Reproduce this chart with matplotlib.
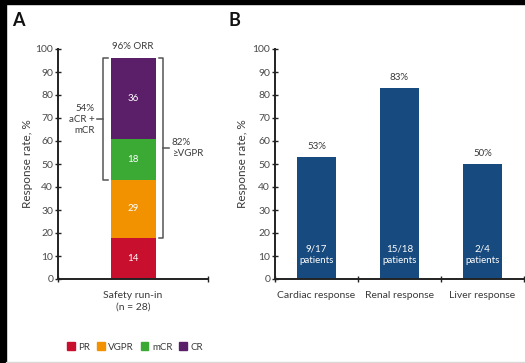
import matplotlib
matplotlib.use("Agg")
import matplotlib.pyplot as plt
from matplotlib.patches import Rectangle

plt.rcParams['font.family'] = ['Lato', 'DejaVu Sans']

# Panel A data
a_category = "Safety run-in\n(n = 28)"
a_series = ["PR", "VGPR", "mCR", "CR"]
a_heights = [18, 25, 18, 35]          # drawn segment heights as they appear
a_labels = ["14", "29", "18", "36"]    # printed segment labels
a_colors = ["#C8102E", "#F39200", "#3AAA35", "#5B1F69"]

# Panel B data
b_categories = ["Cardiac response", "Renal response", "Liver response"]
b_values = [53, 83, 50]
b_top_labels = ["53%", "83%", "50%"]
b_inner_labels = ["9/17\npatients", "15/18\npatients", "2/4\npatients"]
b_color = "#174A7E"

yticks = list(range(0, 101, 10))
txt = "#3a3a3a"
tick_c = "#4a4a4a"

W, H = 525, 363
fig = plt.figure(figsize=(W / 100, H / 100), dpi=100)
fig.patch.set_facecolor("white")

def px(x0, y0, x1, y1):
    return [x0 / W, 1 - y1 / H, (x1 - x0) / W, (y1 - y0) / H]

def style_axis(ax, labelpad):
    for s in ["top", "right"]:
        ax.spines[s].set_visible(False)
    for s in ["left", "bottom"]:
        ax.spines[s].set_linewidth(1.4)
        ax.spines[s].set_color("#222222")
    ax.set_ylim(0, 100)
    ax.set_yticks(yticks)
    ax.tick_params(axis="y", direction="inout", length=4, width=1.0,
                   labelsize=7.5, labelcolor=tick_c, pad=1.5, color="#222222")
    ax.set_ylabel("Response rate, %", fontsize=8.5, color=txt, labelpad=labelpad)

# ---------------- Panel A ----------------
axA = fig.add_axes(px(58, 49, 208, 279))
style_axis(axA, 1.5)
axA.set_xlim(-0.5, 0.5)
bottom = 0
for h, lab, c in zip(a_heights, a_labels, a_colors):
    axA.bar(0, h, width=0.3, bottom=bottom, color=c, edgecolor="none")
    axA.text(0, bottom + h / 2, lab, ha="center", va="center",
             color="white", fontsize=7)
    bottom += h
total = bottom
axA.set_xticks([-0.5, 0.5])
axA.set_xticklabels(["", ""])
axA.tick_params(axis="x", direction="inout", length=5, width=1.0, color="#222222")
axA.text(0, -5, a_category, ha="center", va="top", fontsize=7.5, color=txt,
         linespacing=1.45)
axA.text(0, total + 5, "96% ORR", ha="center", va="center", fontsize=7,
         color=txt)

bc = "#555555"
# left bracket (aCR + mCR)
lb_lo = a_heights[0] + a_heights[1]
xl = -0.2
axA.plot([xl + 0.03, xl, xl, xl + 0.03], [total, total, lb_lo, lb_lo],
         color=bc, lw=1.1, clip_on=False)
lmid = (total + lb_lo) / 2
axA.plot([xl - 0.04, xl], [lmid, lmid], color=bc, lw=1.1, clip_on=False)
axA.text(xl - 0.055, lmid, "54%\naCR +\nmCR", ha="right", va="center",
         fontsize=7, color=txt, linespacing=1.3)
# right bracket (>=VGPR)
rb_lo = a_heights[0]
xr = 0.2
axA.plot([xr - 0.03, xr, xr, xr - 0.03], [total, total, rb_lo, rb_lo],
         color=bc, lw=1.1, clip_on=False)
rmid = (total + rb_lo) / 2
axA.plot([xr, xr + 0.04], [rmid, rmid], color=bc, lw=1.1, clip_on=False)
axA.text(xr + 0.06, rmid, "82%\n\u2265VGPR", ha="left", va="center",
         fontsize=7, color=txt, linespacing=1.3)

# legend
handles = [Rectangle((0, 0), 1, 1, color=c) for c in a_colors]
fig.legend(handles, a_series, loc="center", bbox_to_anchor=(135 / W, 1 - 347 / H),
           ncol=4, frameon=False, fontsize=7, handlelength=0.8,
           handleheight=0.9, handletextpad=0.35, columnspacing=0.7,
           labelcolor=txt)

# ---------------- Panel B ----------------
axB = fig.add_axes(px(275, 49, 524, 279))
style_axis(axB, 3)
xs = list(range(len(b_categories)))
axB.set_xlim(-0.5, len(b_categories) - 0.5)
axB.bar(xs, b_values, width=0.48, color=b_color, edgecolor="none")
for x, v, tl, il in zip(xs, b_values, b_top_labels, b_inner_labels):
    axB.text(x, v + 4.5, tl, ha="center", va="center", fontsize=7, color=txt)
    axB.text(x, 10.5, il, ha="center", va="center", fontsize=7,
             color="white", linespacing=1.25)
axB.set_xticks([i - 0.5 for i in range(len(b_categories) + 1)])
axB.set_xticklabels([""] * (len(b_categories) + 1))
axB.tick_params(axis="x", direction="inout", length=5, width=1.0, color="#222222")
for x, c in zip(xs, b_categories):
    axB.text(x, -5, c, ha="center", va="top", fontsize=7.5, color=txt)

# panel letters
fig.text(12 / W, 1 - 20 / H, "A", fontsize=13, fontweight="bold",
         ha="left", va="center", color="#111111")
fig.text(229 / W, 1 - 20 / H, "B", fontsize=13, fontweight="bold",
         ha="left", va="center", color="#111111")

# frame borders
fig.patches.append(Rectangle((0, 0), 6 / W, 1, transform=fig.transFigure,
                             color="black", zorder=10))
fig.patches.append(Rectangle((0, 1 - 4 / H), 1, 4 / H, transform=fig.transFigure,
                             color="black", zorder=10))
fig.patches.append(Rectangle((6 / W, 0), 1, 1.5 / H, transform=fig.transFigure,
                             color="#d8d8d8", zorder=10))

fig.savefig("out.png", dpi=100, facecolor="white")
